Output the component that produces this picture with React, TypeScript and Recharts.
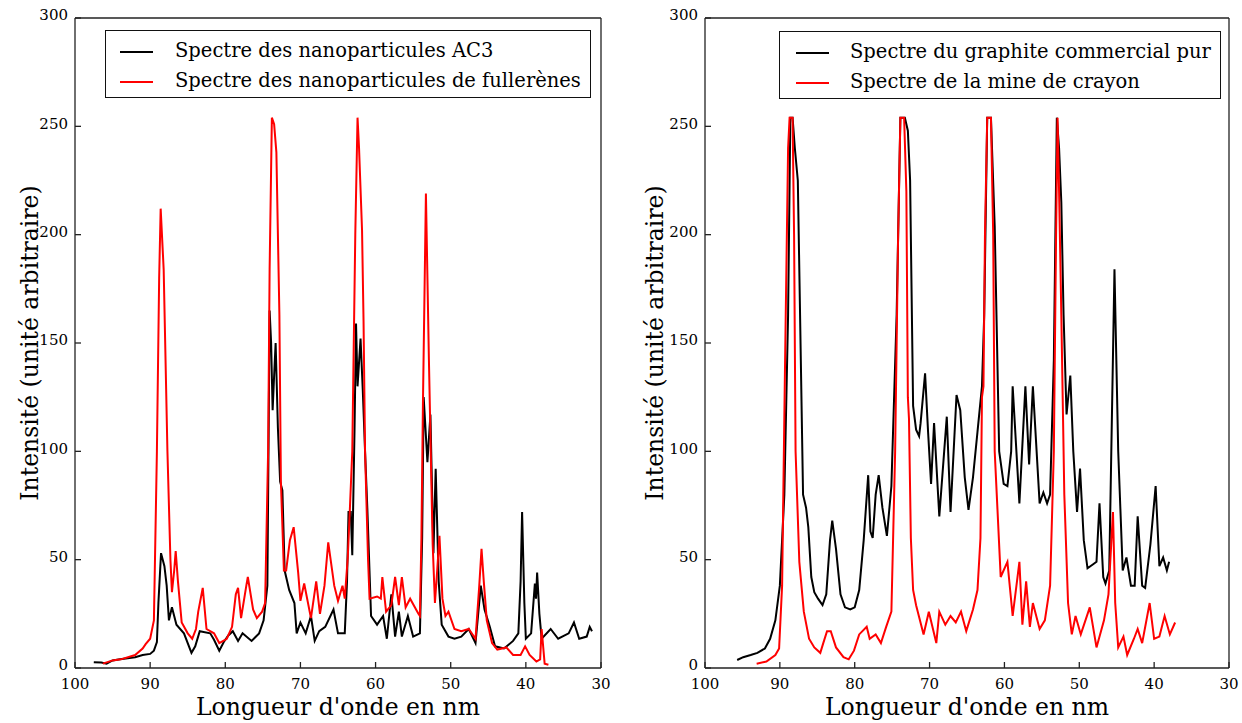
import { LineChart, Line, XAxis, YAxis, Legend } from 'recharts'

const xTicks = [30, 40, 50, 60, 70, 80, 90, 100]
const yTicks = [0, 50, 100, 150, 200, 250, 300]

// [longueur d'onde (nm), intensité]
const ac3 = [
  [97.5, 2.7], [96.5, 2.5], [95.8, 2], [95, 3.5], [94, 4], [93, 4.5], [92, 5], [91, 6], [90, 6.5], [89.5, 8],
  [89.1, 12], [88.9, 30], [88.55, 53], [88.1, 47], [87.8, 38], [87.5, 22], [87.1, 28], [86.5, 20], [85.5, 16],
  [84.5, 7], [84, 10], [83.4, 17], [82, 16], [81.5, 13], [80.8, 8], [80.2, 12], [79.6, 15], [79, 17], [78.3, 12.5],
  [77.7, 16], [76.5, 12.5], [75.5, 16], [74.9, 22], [74.4, 38], [74.25, 100], [74.1, 165], [73.9, 150], [73.7, 119],
  [73.5, 135], [73.3, 150], [73, 111], [72.7, 86], [72.4, 82], [72.1, 45], [71.5, 36], [70.8, 30], [70.5, 16],
  [70, 21], [69.3, 16], [68.6, 24], [68.1, 12.5], [67.5, 17], [66.7, 19], [65.6, 27], [65, 16], [64.1, 16],
  [63.8, 40], [63.6, 72], [63.3, 72], [63.1, 52], [62.8, 110], [62.6, 159], [62.4, 130], [62.0, 152], [61.7, 128],
  [61.4, 100], [61.1, 74], [60.6, 24], [59.8, 20], [59, 24], [58.5, 13.5], [57.9, 34], [57.4, 14.5], [56.9, 26],
  [56.5, 14.5], [55.7, 24], [55, 14.5], [54.1, 16], [53.8, 60], [53.6, 125], [53.1, 95], [52.7, 117], [52.3, 53],
  [52, 92], [51.6, 40], [51.2, 20], [50.3, 14.5], [49.5, 13.5], [48.6, 14.5], [47.6, 18], [46.7, 11.5], [46, 38],
  [45.5, 27], [44.8, 19], [44.1, 10], [42.9, 9], [41.7, 12.5], [41, 16], [40.7, 40], [40.5, 72], [40.2, 30],
  [40, 13.5], [39.3, 16], [38.8, 39], [38.65, 32], [38.5, 44], [38.2, 25], [37.9, 13.5], [36.7, 18], [35.7, 13.5],
  [34.3, 16], [33.6, 21], [32.9, 13.5], [31.9, 14.5], [31.5, 19], [31.2, 17],
]

const fullerenes = [
  [96.3, 2], [95, 3.5], [93.9, 4], [92, 6], [91, 9], [90.6, 11], [90, 13.5], [89.5, 22], [89.1, 100], [88.8, 180],
  [88.6, 212], [88.2, 184], [87.7, 100], [87.3, 50], [87.1, 35], [86.8, 45], [86.6, 54], [86.3, 40], [85.8, 21],
  [85, 16], [84.4, 13.5], [83.9, 18], [83.6, 26], [83, 37], [82.5, 18], [81.5, 16], [80.8, 11.5], [79.8, 13.5],
  [79.1, 19], [78.6, 34], [78.3, 37], [77.9, 23], [77.2, 38], [77, 42], [76.3, 27], [75.8, 23], [75.1, 26],
  [74.7, 30], [74.3, 100], [74.1, 184], [73.8, 254], [73.5, 251], [73.2, 238], [72.8, 163], [72.6, 86], [72.2, 45],
  [71.9, 45], [71.4, 59], [70.9, 65], [70.3, 44], [70, 31], [69.5, 39], [68.6, 23], [67.9, 40], [67.4, 25],
  [66.8, 38], [66.3, 58], [65.5, 38], [65, 31], [64.4, 38], [64.1, 32], [63.7, 51], [63.4, 75], [63.1, 100],
  [62.7, 200], [62.4, 254], [62.2, 240], [61.8, 202], [61.6, 160], [61.4, 100], [61, 50], [60.8, 32], [59.8, 33],
  [59.3, 32], [59.1, 42], [58.6, 26], [57.9, 29], [57.4, 42], [56.9, 29], [56.5, 42], [56, 28], [55.4, 32],
  [54.3, 25], [54.1, 24], [53.9, 60], [53.7, 121], [53.3, 219], [52.9, 142], [52.6, 90], [52.4, 57], [52.1, 30],
  [51.8, 45], [51.5, 61], [51.1, 32], [50.7, 24], [50.3, 26], [49.5, 18], [48.6, 17], [47.6, 18], [46.7, 13.5],
  [46.2, 38], [45.9, 55], [45.6, 40], [45.2, 22], [44.5, 11.5], [43.8, 8.5], [42.6, 9.5], [41.7, 6], [40.7, 6],
  [40.1, 10], [39.5, 6], [38.6, 3], [38.1, 4], [37.9, 18], [37.5, 2], [37, 1.5],
]

const graphite = [
  [95.7, 3.7], [94.9, 5], [93.9, 6], [93, 7], [92, 9], [91.3, 13.5], [90.6, 22], [90, 38], [89.4, 80], [88.9, 163],
  [88.6, 254], [88.3, 254], [88, 240], [87.6, 225], [87.3, 163], [86.9, 80], [86.5, 74], [86.2, 65], [85.8, 42],
  [85.4, 35], [84.9, 32], [84.3, 29], [83.8, 34], [83.3, 59], [83, 68], [82.5, 55], [81.9, 34], [81.3, 28],
  [80.6, 27], [80, 28], [79.4, 36], [78.8, 59], [78.2, 89], [77.9, 63], [77.6, 60], [77.2, 80], [76.8, 89],
  [76.3, 74], [75.7, 61], [75.1, 84], [74.4, 163], [73.9, 254], [73.3, 254], [72.9, 248], [72.6, 225], [72.2, 121],
  [71.8, 110], [71.4, 107], [71.2, 113], [70.6, 136], [70.2, 109], [69.8, 85], [69.4, 113], [68.7, 70], [67.7, 116],
  [67.2, 72], [66.4, 126], [65.9, 119], [65.3, 88], [64.8, 73], [64.2, 88], [63.6, 109], [63, 130], [62.7, 163],
  [62.3, 254], [61.8, 254], [61.3, 204], [60.7, 100], [60.1, 85], [59.6, 84], [59.1, 100], [58.9, 130], [58, 76],
  [57.2, 130], [56.7, 94], [56.2, 130], [55.3, 76], [54.8, 81], [54.3, 76], [53.9, 80], [53.4, 142], [53, 254],
  [52.7, 240], [52.4, 215], [52.1, 163], [51.7, 117], [51.2, 135], [50.8, 100], [50.3, 72], [49.9, 92], [49.4, 59],
  [48.9, 46], [48.1, 48], [47.7, 49], [47.3, 76], [46.8, 42], [46.5, 39], [46, 45], [45.3, 184], [44.8, 100],
  [44.2, 45], [43.7, 51], [43.1, 38], [42.6, 38], [42.2, 70], [41.6, 38], [41.2, 37], [40.5, 57], [39.8, 84],
  [39.3, 47], [38.8, 51], [38.3, 45], [38, 49],
]

const crayon = [
  [93.1, 2], [91.8, 3], [90.6, 6], [90.1, 9], [89.7, 38], [89.3, 142], [88.9, 240], [88.7, 254], [88.3, 254],
  [88.1, 200], [87.9, 100], [87.4, 49], [86.8, 26], [86.1, 13.5], [85.4, 9.5], [84.6, 7], [84.2, 11.5], [83.7, 17],
  [83.2, 17], [82.5, 9.5], [81.5, 5], [80.8, 4], [80.1, 8], [79.4, 15.5], [78.4, 19], [78, 13.5], [77.2, 15.5],
  [76.5, 11.5], [75.8, 19], [75.1, 26], [74.6, 100], [74.2, 200], [73.9, 254], [73.4, 254], [73.1, 220],
  [72.9, 125], [72.75, 115], [72.5, 60], [72.2, 36], [71.8, 29], [70.8, 15.5], [70.1, 26], [69.1, 11.5],
  [68.7, 26], [67.9, 20], [67.2, 24], [66.5, 21], [65.8, 26], [65.1, 17], [64.2, 27], [63.6, 36], [63.2, 60],
  [63, 125], [62.8, 130], [62.6, 200], [62.3, 254], [61.8, 254], [61.5, 200], [61.3, 100], [60.5, 42], [59.6, 49],
  [58.9, 24], [58, 49], [57.6, 20], [57.1, 40], [56.6, 19], [56.2, 30], [55.3, 18], [54.6, 22], [53.9, 38],
  [53.4, 100], [53.1, 200], [52.9, 254], [52.7, 220], [52.4, 163], [52, 80], [51.5, 30], [51, 15.5], [50.5, 24],
  [49.8, 15.5], [48.6, 28], [47.7, 9.5], [46.7, 22], [46.1, 34], [45.5, 72], [45.2, 30], [44.8, 9.5], [44.1, 14.5],
  [43.6, 6], [42.7, 13.5], [42.2, 18], [41.6, 11.5], [40.6, 30], [40, 13.5], [39.3, 14.5], [38.6, 24], [37.9, 15.5],
  [37.2, 21],
]

const serif = "'DejaVu Serif', serif"
const toRows = (pts: number[][]) => pts.map(([x, y]) => ({ x, y }))

type Series = { name: string; color: string; points: number[][] }

function LegendBox({ series, lineX, textX }: { series: Series[]; lineX: number; textX: number }) {
  return (
    <div style={{ border: '1.5px solid #111', background: '#fff', paddingTop: 6, boxSizing: 'border-box', height: 68 }}>
      {series.map((s) => (
        <div key={s.name} style={{ position: 'relative', height: 30, fontFamily: serif, fontSize: 19.5, color: '#000' }}>
          <svg width={40} height={30} style={{ position: 'absolute', left: lineX, top: 0 }}>
            <line x1={0} x2={33} y1={15} y2={15} stroke={s.color} strokeWidth={2} />
          </svg>
          <span style={{ position: 'absolute', left: textX, top: 2, whiteSpace: 'nowrap' }}>{s.name}</span>
        </div>
      ))}
    </div>
  )
}

function Panel(props: {
  width: number
  yAxisWidth: number
  marginRight: number
  titleOffset: number
  legend: { left: number; top: number; width: number; lineX: number; textX: number }
  series: Series[]
}) {
  const { width, yAxisWidth, marginRight, titleOffset, legend, series } = props
  const axisStroke = '#222'
  return (
    <LineChart width={width} height={723} margin={{ top: 17, right: marginRight, left: 0, bottom: 0 }}>
      <XAxis
        xAxisId="b"
        dataKey="x"
        type="number"
        domain={[30, 100]}
        ticks={xTicks}
        reversed
        allowDataOverflow
        height={55}
        tickSize={-6}
        tickMargin={16}
        stroke={axisStroke}
        strokeWidth={1.3}
        tick={{ fill: '#000', fontSize: 15, fontFamily: serif }}
        label={{ value: "Longueur d'onde en nm", position: 'insideBottom', offset: 8, fill: '#000', fontSize: 23.5, fontFamily: serif }}
      />
      <XAxis
        xAxisId="t"
        orientation="top"
        dataKey="x"
        type="number"
        domain={[30, 100]}
        ticks={xTicks}
        reversed
        height={1}
        tickSize={-6}
        tick={false}
        stroke={axisStroke}
        strokeWidth={1.3}
      />
      <YAxis
        yAxisId="l"
        type="number"
        domain={[0, 300]}
        ticks={yTicks}
        width={yAxisWidth}
        tickSize={-6}
        tickMargin={13}
        stroke={axisStroke}
        strokeWidth={1.3}
        tick={{ fill: '#000', fontSize: 15, fontFamily: serif, dy: -3 }}
        label={{
          value: 'Intensité (unité arbitraire)',
          angle: -90,
          position: 'insideLeft',
          offset: titleOffset,
          fill: '#000',
          fontSize: 23.5,
          fontFamily: serif,
          style: { textAnchor: 'middle' },
        }}
      />
      <YAxis
        yAxisId="r"
        orientation="right"
        type="number"
        domain={[0, 300]}
        ticks={yTicks}
        width={1}
        tickSize={-6}
        tick={false}
        stroke={axisStroke}
        strokeWidth={1.3}
      />
      <Legend
        layout="horizontal"
        verticalAlign="middle"
        align="center"
        wrapperStyle={{ position: 'absolute', left: legend.left, top: legend.top, width: legend.width }}
        content={() => <LegendBox series={series} lineX={legend.lineX} textX={legend.textX} />}
      />
      {series.map((s) => (
        <Line
          key={s.name}
          xAxisId="b"
          yAxisId="l"
          name={s.name}
          data={toRows(s.points)}
          dataKey="y"
          type="linear"
          stroke={s.color}
          strokeWidth={2}
          dot={false}
          isAnimationActive={false}
        />
      ))}
    </LineChart>
  )
}

export default function App() {
  return (
    <div style={{ position: 'absolute', left: 0, top: 0, width: 1242, height: 723, background: '#fff' }}>
      <div style={{ position: 'absolute', left: 0, top: 0 }}>
        <Panel
          width={620}
          yAxisWidth={75}
          marginRight={18}
          titleOffset={30}
          legend={{ left: 105, top: 30, width: 486, lineX: 14, textX: 69 }}
          series={[
            { name: 'Spectre des nanoparticules AC3', color: '#000', points: ac3 },
            { name: 'Spectre des nanoparticules de fullerènes', color: '#f00', points: fullerenes },
          ]}
        />
      </div>
      <div style={{ position: 'absolute', left: 620, top: 0 }}>
        <Panel
          width={622}
          yAxisWidth={85}
          marginRight={12}
          titleOffset={35}
          legend={{ left: 159, top: 31, width: 442, lineX: 16, textX: 70 }}
          series={[
            { name: 'Spectre du graphite commercial pur', color: '#000', points: graphite },
            { name: 'Spectre de la mine de crayon', color: '#f00', points: crayon },
          ]}
        />
      </div>
    </div>
  )
}
